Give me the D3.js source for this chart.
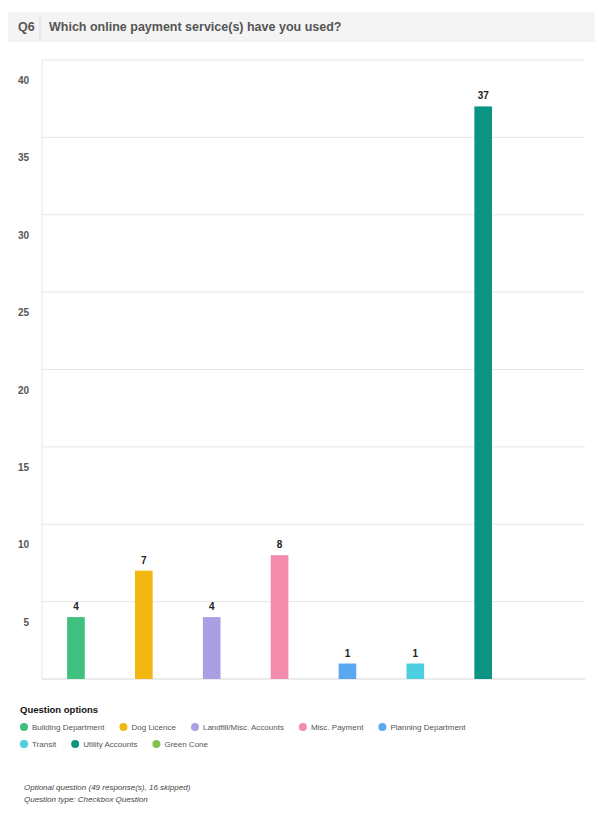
<!DOCTYPE html>
<html lang="en">
<head>
<meta charset="UTF-8">
<title>Q6 online payment services</title>
<script src="https://cdn.jsdelivr.net/npm/d3@7"></script>
<style>
  body { margin: 0; background: #fff; font-family: "Liberation Sans", Arial, Helvetica, sans-serif; }
</style>
</head>
<body>
<div id="output"></div>
<script>

var categories = ["Building Department", "Dog Licence", "Landfill/Misc. Accounts", "Misc. Payment",
                  "Planning Department", "Transit", "Utility Accounts", "Green Cone"];
var counts = [4, 7, 4, 8, 1, 1, 37, 0];
var colors = ["#40c07f", "#f2b810", "#a99fe2", "#f28bac", "#5aa9f0", "#4ccfe0", "#0a9481", "#7fc24c"];
var yTicks = [5, 10, 15, 20, 25, 30, 35, 40];

var w = 600, h = 827;
var svg = d3.select("#output").append("svg")
    .attr("width", w)
    .attr("height", h);

// header bar
svg.append("rect")
    .attr("x", 8).attr("y", 12)
    .attr("width", 587).attr("height", 30)
    .attr("fill", "#f4f4f4");
svg.append("line")
    .attr("x1", 40).attr("x2", 40)
    .attr("y1", 14).attr("y2", 40)
    .attr("stroke", "#dddddd");
svg.append("text")
    .attr("x", 18).attr("y", 31)
    .attr("font-size", 12.5).attr("font-weight", "bold")
    .attr("fill", "#555")
    .text("Q6");
svg.append("text")
    .attr("x", 49).attr("y", 31)
    .attr("font-size", 12.5).attr("font-weight", "bold")
    .attr("fill", "#555")
    .text("Which online payment service(s) have you used?");

// chart area
var plotLeft = 42, plotRight = 585, plotTop = 60, plotBottom = 679;

var x = d3.scaleBand()
    .domain(categories)
    .range([plotLeft, plotRight])
    .paddingInner(0.74)
    .paddingOuter(0.37);

var y = d3.scaleLinear()
    .domain([0, 40])
    .range([plotBottom, plotTop]);

svg.append("g").selectAll("line")
    .data(yTicks)
    .enter().append("line")
    .attr("x1", plotLeft).attr("x2", plotRight)
    .attr("y1", function(d) { return y(d); })
    .attr("y2", function(d) { return y(d); })
    .attr("stroke", "#e6e6e6");

svg.append("line")
    .attr("x1", plotLeft).attr("x2", plotLeft)
    .attr("y1", plotTop).attr("y2", plotBottom)
    .attr("stroke", "#e6e6e6");
svg.append("line")
    .attr("x1", plotLeft).attr("x2", plotRight)
    .attr("y1", plotBottom).attr("y2", plotBottom)
    .attr("stroke", "#d8d8d8");

// y labels sit a bit below their grid lines, as in the original
svg.append("g").selectAll("text")
    .data(yTicks)
    .enter().append("text")
    .attr("x", 29)
    .attr("y", function(d) { return y(d) + 24; })
    .attr("text-anchor", "end")
    .attr("font-size", 10).attr("font-weight", "bold")
    .attr("fill", "#555")
    .text(function(d) { return d; });

var bars = svg.append("g");
bars.selectAll("rect")
    .data(counts)
    .enter().append("rect")
    .attr("x", function(d, i) { return x(categories[i]); })
    .attr("width", x.bandwidth())
    .attr("y", function(d) { return y(d); })
    .attr("height", function(d) { return plotBottom - y(d); })
    .attr("fill", function(d, i) { return colors[i]; });

bars.selectAll("text")
    .data(counts)
    .enter().filter(function(d) { return d > 0; })
    .append("text")
    .attr("x", function(d, i) { return x(categories[i]) + x.bandwidth() / 2; })
    .attr("y", function(d) { return y(d) - 7; })
    .attr("text-anchor", "middle")
    .attr("font-size", 10).attr("font-weight", "bold")
    .attr("fill", "#222")
    .text(function(d) { return d; });

// legend
svg.append("text")
    .attr("x", 20).attr("y", 713)
    .attr("font-size", 9.5).attr("font-weight", "bold")
    .attr("fill", "#111")
    .text("Question options");

var legend = svg.append("g");
var lx = 24, row = 0, perRow = 5;
categories.forEach(function(c, i) {
    if (i > 0 && i % perRow === 0) { row++; lx = 24; }
    var ly = 727 + row * 17;
    legend.append("circle")
        .attr("cx", lx).attr("cy", ly)
        .attr("r", 4)
        .attr("fill", colors[i]);
    var t = legend.append("text")
        .attr("x", lx + 8).attr("y", ly + 3)
        .attr("font-size", 8).attr("fill", "#555")
        .text(c);
    lx += 8 + t.node().getComputedTextLength() + 19;
});

// footer
svg.append("text")
    .attr("x", 24).attr("y", 790)
    .attr("font-size", 8).attr("font-style", "italic")
    .attr("fill", "#444")
    .text("Optional question (49 response(s), 16 skipped)");
svg.append("text")
    .attr("x", 24).attr("y", 802)
    .attr("font-size", 8).attr("font-style", "italic")
    .attr("fill", "#444")
    .text("Question type: Checkbox Question");

</script>
</body>
</html>
